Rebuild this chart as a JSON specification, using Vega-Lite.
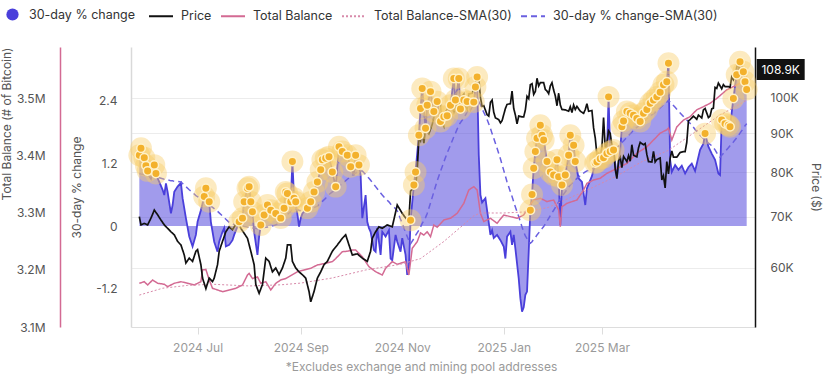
{
  "$schema": "https://vega.github.io/schema/vega-lite/v6.json",
  "width": 624,
  "height": 280,
  "autosize": {"type": "none"},
  "padding": {"left": 131, "top": 47, "right": 81, "bottom": 54},
  "background": "white",
  "config": {
    "view": {"stroke": null},
    "font": "Inter",
    "axis": {"labelFont": "Inter", "titleFont": "Inter", "titleFontWeight": "normal"},
    "legend": {"labelFont": "Inter"}
  },
  "datasets": {
    "pct": [
      {"date":"2024-05-27","pct":1.35,"sma":1.0},{"date":"2024-05-28","pct":1.48,"sma":0.99},{"date":"2024-05-30","pct":1.30,"sma":0.98},{"date":"2024-05-31","pct":1.15,"sma":0.97},{"date":"2024-06-01","pct":1.05,"sma":0.97},{"date":"2024-06-02","pct":0.95,"sma":0.96},{"date":"2024-06-03","pct":0.90,"sma":0.95},{"date":"2024-06-05","pct":1.16,"sma":0.94},{"date":"2024-06-06","pct":1.00,"sma":0.94},{"date":"2024-06-07","pct":0.91,"sma":0.93},{"date":"2024-06-08","pct":0.84,"sma":0.92},{"date":"2024-06-10","pct":0.69,"sma":0.90},{"date":"2024-06-11","pct":0.59,"sma":0.89},{"date":"2024-06-12","pct":0.81,"sma":0.89},{"date":"2024-06-13","pct":0.65,"sma":0.88},{"date":"2024-06-15","pct":0.24,"sma":0.86},{"date":"2024-06-16","pct":0.40,"sma":0.86},{"date":"2024-06-17","pct":0.65,"sma":0.85},{"date":"2024-06-19","pct":0.75,"sma":0.85},{"date":"2024-06-21","pct":0.82,"sma":0.84},{"date":"2024-06-22","pct":0.53,"sma":0.81},{"date":"2024-06-24","pct":0.15,"sma":0.75},{"date":"2024-06-26","pct":-0.20,"sma":0.69},{"date":"2024-06-28","pct":-0.39,"sma":0.64},{"date":"2024-06-30","pct":-0.17,"sma":0.58},
      {"date":"2024-07-01","pct":0.08,"sma":0.56},{"date":"2024-07-03","pct":0.30,"sma":0.51},{"date":"2024-07-05","pct":0.56,"sma":0.47},{"date":"2024-07-06","pct":0.72,"sma":0.44},{"date":"2024-07-08","pct":0.46,"sma":0.40},{"date":"2024-07-09","pct":0.08,"sma":0.38},{"date":"2024-07-11","pct":-0.30,"sma":0.33},{"date":"2024-07-13","pct":-0.49,"sma":0.28},{"date":"2024-07-14","pct":-0.30,"sma":0.25},{"date":"2024-07-16","pct":-0.11,"sma":0.19},{"date":"2024-07-17","pct":-0.04,"sma":0.16},{"date":"2024-07-18","pct":-0.39,"sma":0.13},{"date":"2024-07-20","pct":-0.36,"sma":0.07},{"date":"2024-07-22","pct":-0.27,"sma":0.04},{"date":"2024-07-23","pct":-0.17,"sma":0.03},{"date":"2024-07-25","pct":-0.01,"sma":0.02},{"date":"2024-07-26","pct":0.08,"sma":0.02},{"date":"2024-07-28","pct":0.15,"sma":0.00},{"date":"2024-07-29","pct":0.46,"sma":-0.01},{"date":"2024-07-31","pct":0.72,"sma":-0.02},
      {"date":"2024-08-01","pct":0.75,"sma":-0.03},{"date":"2024-08-02","pct":0.46,"sma":-0.03},{"date":"2024-08-03","pct":0.27,"sma":-0.04},{"date":"2024-08-04","pct":-0.11,"sma":-0.04},{"date":"2024-08-06","pct":-0.55,"sma":-0.05},{"date":"2024-08-07","pct":-0.20,"sma":-0.05},{"date":"2024-08-08","pct":0.02,"sma":-0.04},{"date":"2024-08-10","pct":0.21,"sma":-0.03},{"date":"2024-08-12","pct":0.40,"sma":-0.02},{"date":"2024-08-14","pct":0.30,"sma":-0.01},{"date":"2024-08-17","pct":0.24,"sma":0.02},{"date":"2024-08-20","pct":0.15,"sma":0.10},{"date":"2024-08-22","pct":0.34,"sma":0.16},{"date":"2024-08-23","pct":0.65,"sma":0.19},{"date":"2024-08-24","pct":0.62,"sma":0.22},{"date":"2024-08-26","pct":0.46,"sma":0.28},{"date":"2024-08-27","pct":1.23,"sma":0.32},{"date":"2024-08-28","pct":0.53,"sma":0.34},{"date":"2024-08-29","pct":0.46,"sma":0.33},{"date":"2024-08-31","pct":-0.01,"sma":0.30},
      {"date":"2024-09-01","pct":0.15,"sma":0.29},{"date":"2024-09-02","pct":0.24,"sma":0.28},{"date":"2024-09-05","pct":0.34,"sma":0.30},{"date":"2024-09-07","pct":0.46,"sma":0.32},{"date":"2024-09-09","pct":0.65,"sma":0.35},{"date":"2024-09-11","pct":0.84,"sma":0.38},{"date":"2024-09-13","pct":1.07,"sma":0.44},{"date":"2024-09-14","pct":1.26,"sma":0.47},{"date":"2024-09-16","pct":1.29,"sma":0.53},{"date":"2024-09-18","pct":1.32,"sma":0.60},{"date":"2024-09-20","pct":1.03,"sma":0.65},{"date":"2024-09-22","pct":0.75,"sma":0.70},{"date":"2024-09-24","pct":1.51,"sma":0.76},{"date":"2024-09-26","pct":1.42,"sma":0.81},{"date":"2024-09-29","pct":1.35,"sma":0.89},
      {"date":"2024-10-01","pct":1.13,"sma":0.94},{"date":"2024-10-03","pct":0.97,"sma":0.99},{"date":"2024-10-04","pct":1.35,"sma":1.01},{"date":"2024-10-06","pct":1.16,"sma":1.04},{"date":"2024-10-07","pct":0.97,"sma":1.05},{"date":"2024-10-08","pct":0.15,"sma":1.05},{"date":"2024-10-10","pct":0.59,"sma":0.98},{"date":"2024-10-11","pct":0.08,"sma":0.94},{"date":"2024-10-12","pct":-0.04,"sma":0.91},{"date":"2024-10-13","pct":-0.11,"sma":0.87},{"date":"2024-10-15","pct":-0.46,"sma":0.79},{"date":"2024-10-16","pct":-0.49,"sma":0.75},{"date":"2024-10-17","pct":-0.04,"sma":0.71},{"date":"2024-10-19","pct":-0.55,"sma":0.63},{"date":"2024-10-20","pct":-0.11,"sma":0.59},{"date":"2024-10-22","pct":-0.20,"sma":0.52},{"date":"2024-10-24","pct":-0.08,"sma":0.46},{"date":"2024-10-25","pct":-0.62,"sma":0.42},{"date":"2024-10-26","pct":-0.65,"sma":0.39},{"date":"2024-10-28","pct":-0.17,"sma":0.33},{"date":"2024-10-29","pct":-0.30,"sma":0.29},{"date":"2024-10-31","pct":-0.49,"sma":0.13},
      {"date":"2024-11-01","pct":-0.23,"sma":0.05},{"date":"2024-11-03","pct":-0.55,"sma":-0.12},{"date":"2024-11-04","pct":-0.93,"sma":-0.20},{"date":"2024-11-05","pct":-0.81,"sma":-0.28},{"date":"2024-11-06","pct":0.11,"sma":-0.34},{"date":"2024-11-08","pct":0.78,"sma":-0.24},{"date":"2024-11-09","pct":1.03,"sma":-0.18},{"date":"2024-11-11","pct":1.73,"sma":-0.08},{"date":"2024-11-12","pct":2.24,"sma":-0.02},{"date":"2024-11-13","pct":2.62,"sma":0.05},{"date":"2024-11-15","pct":1.86,"sma":0.16},{"date":"2024-11-16","pct":2.30,"sma":0.24},{"date":"2024-11-18","pct":2.56,"sma":0.44},{"date":"2024-11-20","pct":2.18,"sma":0.65},{"date":"2024-11-22","pct":2.37,"sma":0.86},{"date":"2024-11-24","pct":1.99,"sma":1.04},{"date":"2024-11-26","pct":2.08,"sma":1.22},{"date":"2024-11-28","pct":2.10,"sma":1.39},{"date":"2024-11-30","pct":2.30,"sma":1.54},
      {"date":"2024-12-02","pct":2.81,"sma":1.70},{"date":"2024-12-03","pct":2.40,"sma":1.77},{"date":"2024-12-05","pct":2.81,"sma":1.92},{"date":"2024-12-06","pct":2.23,"sma":1.97},{"date":"2024-12-08","pct":2.40,"sma":2.06},{"date":"2024-12-10","pct":2.37,"sma":2.17},{"date":"2024-12-12","pct":2.21,"sma":2.26},{"date":"2024-12-14","pct":2.36,"sma":2.30},{"date":"2024-12-15","pct":2.65,"sma":2.32},{"date":"2024-12-16","pct":2.84,"sma":2.35},{"date":"2024-12-17","pct":1.35,"sma":2.37},{"date":"2024-12-18","pct":0.59,"sma":2.31},{"date":"2024-12-19","pct":0.45,"sma":2.23},{"date":"2024-12-21","pct":0.53,"sma":2.10},{"date":"2024-12-22","pct":0.30,"sma":2.03},{"date":"2024-12-24","pct":-0.17,"sma":1.86},{"date":"2024-12-25","pct":-0.08,"sma":1.76},{"date":"2024-12-26","pct":-0.23,"sma":1.67},{"date":"2024-12-28","pct":-0.17,"sma":1.48},{"date":"2024-12-30","pct":-0.27,"sma":1.28},
      {"date":"2025-01-01","pct":-0.39,"sma":1.06},{"date":"2025-01-02","pct":-0.62,"sma":0.95},{"date":"2025-01-03","pct":-0.20,"sma":0.84},{"date":"2025-01-05","pct":-0.11,"sma":0.65},{"date":"2025-01-06","pct":-0.36,"sma":0.56},{"date":"2025-01-07","pct":-0.17,"sma":0.46},{"date":"2025-01-08","pct":-0.43,"sma":0.36},{"date":"2025-01-10","pct":-1.00,"sma":0.18},{"date":"2025-01-11","pct":-1.38,"sma":0.08},{"date":"2025-01-12","pct":-1.63,"sma":-0.02},{"date":"2025-01-13","pct":-1.55,"sma":-0.11},{"date":"2025-01-14","pct":-1.31,"sma":-0.19},{"date":"2025-01-15","pct":-1.25,"sma":-0.24},{"date":"2025-01-16","pct":-0.50,"sma":-0.30},{"date":"2025-01-17","pct":0.30,"sma":-0.33},{"date":"2025-01-18","pct":0.60,"sma":-0.30},{"date":"2025-01-19","pct":1.10,"sma":-0.25},{"date":"2025-01-20","pct":1.42,"sma":-0.22},{"date":"2025-01-21","pct":1.67,"sma":-0.17},{"date":"2025-01-23","pct":1.92,"sma":-0.09},{"date":"2025-01-24","pct":1.73,"sma":-0.05},{"date":"2025-01-25","pct":1.64,"sma":-0.01},{"date":"2025-01-27","pct":1.23,"sma":0.09},{"date":"2025-01-29","pct":1.03,"sma":0.20},{"date":"2025-01-31","pct":0.97,"sma":0.30},
      {"date":"2025-02-02","pct":1.26,"sma":0.41},{"date":"2025-02-03","pct":0.94,"sma":0.46},{"date":"2025-02-04","pct":0.02,"sma":0.51},{"date":"2025-02-05","pct":0.78,"sma":0.56},{"date":"2025-02-07","pct":0.97,"sma":0.65},{"date":"2025-02-09","pct":1.35,"sma":0.74},{"date":"2025-02-10","pct":1.73,"sma":0.78},{"date":"2025-02-12","pct":1.54,"sma":0.85},{"date":"2025-02-13","pct":1.23,"sma":0.88},{"date":"2025-02-15","pct":0.91,"sma":0.93},{"date":"2025-02-17","pct":0.84,"sma":0.99},{"date":"2025-02-19","pct":0.40,"sma":1.03},{"date":"2025-02-20","pct":0.72,"sma":1.05},{"date":"2025-02-23","pct":0.95,"sma":1.08},{"date":"2025-02-25","pct":1.20,"sma":1.12},{"date":"2025-02-26","pct":1.22,"sma":1.14},{"date":"2025-02-28","pct":1.28,"sma":1.18},
      {"date":"2025-03-02","pct":1.30,"sma":1.24},{"date":"2025-03-04","pct":1.38,"sma":1.30},{"date":"2025-03-05","pct":2.46,"sma":1.33},{"date":"2025-03-06","pct":1.42,"sma":1.36},{"date":"2025-03-08","pct":1.45,"sma":1.42},{"date":"2025-03-10","pct":0.94,"sma":1.49},{"date":"2025-03-12","pct":1.45,"sma":1.56},{"date":"2025-03-13","pct":1.89,"sma":1.59},{"date":"2025-03-14","pct":2.00,"sma":1.62},{"date":"2025-03-16","pct":2.18,"sma":1.69},{"date":"2025-03-18","pct":2.15,"sma":1.76},{"date":"2025-03-20","pct":2.11,"sma":1.82},{"date":"2025-03-22","pct":2.05,"sma":1.88},{"date":"2025-03-24","pct":1.99,"sma":1.93},{"date":"2025-03-26","pct":2.15,"sma":1.98},{"date":"2025-03-28","pct":2.22,"sma":2.04},{"date":"2025-03-30","pct":2.34,"sma":2.09},
      {"date":"2025-04-01","pct":2.40,"sma":2.14},{"date":"2025-04-03","pct":2.46,"sma":2.20},{"date":"2025-04-05","pct":2.55,"sma":2.25},{"date":"2025-04-07","pct":2.69,"sma":2.31},{"date":"2025-04-09","pct":2.75,"sma":2.36},{"date":"2025-04-10","pct":3.10,"sma":2.40},{"date":"2025-04-11","pct":1.26,"sma":2.36},{"date":"2025-04-12","pct":1.03,"sma":2.33},{"date":"2025-04-14","pct":1.16,"sma":2.26},{"date":"2025-04-16","pct":1.07,"sma":2.19},{"date":"2025-04-18","pct":1.15,"sma":2.12},{"date":"2025-04-20","pct":1.00,"sma":2.05},{"date":"2025-04-22","pct":1.12,"sma":1.99},{"date":"2025-04-24","pct":1.19,"sma":1.92},{"date":"2025-04-26","pct":1.05,"sma":1.84},{"date":"2025-04-29","pct":1.45,"sma":1.73},
      {"date":"2025-05-01","pct":1.57,"sma":1.67},{"date":"2025-05-02","pct":1.76,"sma":1.64},{"date":"2025-05-04","pct":1.51,"sma":1.58},{"date":"2025-05-06","pct":1.38,"sma":1.53},{"date":"2025-05-08","pct":1.26,"sma":1.45},{"date":"2025-05-10","pct":1.00,"sma":1.34},{"date":"2025-05-11","pct":0.97,"sma":1.31},{"date":"2025-05-12","pct":2.02,"sma":1.35},{"date":"2025-05-14","pct":1.95,"sma":1.42},{"date":"2025-05-16","pct":1.92,"sma":1.49},{"date":"2025-05-17","pct":1.89,"sma":1.53},{"date":"2025-05-19","pct":2.43,"sma":1.60},{"date":"2025-05-21","pct":2.88,"sma":1.68},{"date":"2025-05-23","pct":3.13,"sma":1.77},{"date":"2025-05-25","pct":2.94,"sma":1.86},{"date":"2025-05-26","pct":2.75,"sma":1.91},{"date":"2025-05-27","pct":2.60,"sma":1.95}
    ],
    "price": [
      {"date":"2024-05-27","price":70000},{"date":"2024-05-28","price":68300},{"date":"2024-05-30","price":68600},{"date":"2024-06-01","price":68300},{"date":"2024-06-03","price":69700},{"date":"2024-06-05","price":71400},{"date":"2024-06-07","price":70400},{"date":"2024-06-09","price":69300},{"date":"2024-06-11","price":68300},{"date":"2024-06-13","price":67600},{"date":"2024-06-15","price":66900},{"date":"2024-06-17","price":66300},{"date":"2024-06-19","price":65000},{"date":"2024-06-21","price":64300},{"date":"2024-06-23","price":62400},{"date":"2024-06-24","price":60900},{"date":"2024-06-26","price":61800},{"date":"2024-06-28","price":61200},{"date":"2024-06-30","price":63100},
      {"date":"2024-07-01","price":63400},{"date":"2024-07-03","price":60600},{"date":"2024-07-04","price":58200},{"date":"2024-07-06","price":56400},{"date":"2024-07-08","price":58200},{"date":"2024-07-10","price":57600},{"date":"2024-07-11","price":58200},{"date":"2024-07-13","price":60600},{"date":"2024-07-14","price":63100},{"date":"2024-07-16","price":65000},{"date":"2024-07-18","price":66900},{"date":"2024-07-20","price":67900},{"date":"2024-07-22","price":67300},{"date":"2024-07-25","price":69000},{"date":"2024-07-27","price":67600},{"date":"2024-07-29","price":66600},{"date":"2024-07-31","price":65600},
      {"date":"2024-08-02","price":63100},{"date":"2024-08-04","price":60600},{"date":"2024-08-05","price":57100},{"date":"2024-08-07","price":55600},{"date":"2024-08-09","price":57100},{"date":"2024-08-11","price":61800},{"date":"2024-08-13","price":61200},{"date":"2024-08-15","price":59300},{"date":"2024-08-17","price":60000},{"date":"2024-08-19","price":58800},{"date":"2024-08-21","price":60000},{"date":"2024-08-23","price":61800},{"date":"2024-08-24","price":64300},{"date":"2024-08-26","price":64300},{"date":"2024-08-27","price":61200},{"date":"2024-08-29","price":60000},{"date":"2024-08-31","price":59300},
      {"date":"2024-09-02","price":58800},{"date":"2024-09-04","price":58200},{"date":"2024-09-06","price":55900},{"date":"2024-09-07","price":54200},{"date":"2024-09-09","price":55900},{"date":"2024-09-11","price":58200},{"date":"2024-09-13","price":59300},{"date":"2024-09-15","price":60600},{"date":"2024-09-17","price":61200},{"date":"2024-09-20","price":63100},{"date":"2024-09-23","price":64300},{"date":"2024-09-26","price":65600},{"date":"2024-09-28","price":66300},{"date":"2024-09-30","price":64300},
      {"date":"2024-10-02","price":62400},{"date":"2024-10-05","price":62600},{"date":"2024-10-08","price":61800},{"date":"2024-10-11","price":61200},{"date":"2024-10-13","price":63100},{"date":"2024-10-14","price":65600},{"date":"2024-10-16","price":66900},{"date":"2024-10-18","price":67900},{"date":"2024-10-20","price":67600},{"date":"2024-10-23","price":68300},{"date":"2024-10-26","price":67900},{"date":"2024-10-29","price":72500},
      {"date":"2024-11-01","price":70700},{"date":"2024-11-04","price":69300},{"date":"2024-11-05","price":69400},{"date":"2024-11-06","price":75600},{"date":"2024-11-07","price":76000},{"date":"2024-11-09","price":76700},{"date":"2024-11-10","price":80400},{"date":"2024-11-11","price":88700},{"date":"2024-11-12","price":87900},{"date":"2024-11-13","price":90500},{"date":"2024-11-14","price":87300},{"date":"2024-11-15","price":91100},{"date":"2024-11-17","price":89800},{"date":"2024-11-19","price":92300},{"date":"2024-11-20","price":94300},{"date":"2024-11-21","price":98400},{"date":"2024-11-22","price":98900},{"date":"2024-11-24","price":98000},{"date":"2024-11-25","price":93000},{"date":"2024-11-26","price":91900},{"date":"2024-11-27","price":95900},{"date":"2024-11-29","price":97500},
      {"date":"2024-12-01","price":97200},{"date":"2024-12-02","price":95800},{"date":"2024-12-04","price":98800},{"date":"2024-12-05","price":97000},{"date":"2024-12-06","price":99900},{"date":"2024-12-08","price":101200},{"date":"2024-12-09","price":97400},{"date":"2024-12-10","price":96700},{"date":"2024-12-11","price":101200},{"date":"2024-12-13","price":101400},{"date":"2024-12-15","price":104300},{"date":"2024-12-16","price":106000},{"date":"2024-12-17","price":106100},{"date":"2024-12-18","price":100200},{"date":"2024-12-19","price":97500},{"date":"2024-12-20","price":97700},{"date":"2024-12-22","price":95100},{"date":"2024-12-23","price":94700},{"date":"2024-12-24","price":98700},{"date":"2024-12-25","price":99400},{"date":"2024-12-26","price":95800},{"date":"2024-12-27","price":94200},{"date":"2024-12-29","price":93700},{"date":"2024-12-30","price":92800},{"date":"2024-12-31","price":93400},
      {"date":"2025-01-02","price":96900},{"date":"2025-01-03","price":98100},{"date":"2025-01-05","price":98300},{"date":"2025-01-06","price":102100},{"date":"2025-01-07","price":96900},{"date":"2025-01-08","price":95000},{"date":"2025-01-09","price":92500},{"date":"2025-01-10","price":94700},{"date":"2025-01-12","price":94500},{"date":"2025-01-13","price":94500},{"date":"2025-01-14","price":96500},{"date":"2025-01-15","price":100500},{"date":"2025-01-16","price":99800},{"date":"2025-01-17","price":104100},{"date":"2025-01-18","price":104400},{"date":"2025-01-19","price":101100},{"date":"2025-01-20","price":102000},{"date":"2025-01-21","price":106100},{"date":"2025-01-22","price":103700},{"date":"2025-01-23","price":104700},{"date":"2025-01-25","price":104700},{"date":"2025-01-26","price":102600},{"date":"2025-01-27","price":102100},{"date":"2025-01-28","price":101300},{"date":"2025-01-29","price":103700},{"date":"2025-01-30","price":104700},{"date":"2025-01-31","price":102400},
      {"date":"2025-02-01","price":100600},{"date":"2025-02-02","price":97700},{"date":"2025-02-03","price":101400},{"date":"2025-02-04","price":97900},{"date":"2025-02-05","price":96600},{"date":"2025-02-07","price":96500},{"date":"2025-02-09","price":96100},{"date":"2025-02-10","price":97400},{"date":"2025-02-11","price":95700},{"date":"2025-02-12","price":97900},{"date":"2025-02-13","price":96600},{"date":"2025-02-14","price":97500},{"date":"2025-02-16","price":96100},{"date":"2025-02-17","price":95800},{"date":"2025-02-18","price":95500},{"date":"2025-02-19","price":96600},{"date":"2025-02-20","price":98300},{"date":"2025-02-21","price":96100},{"date":"2025-02-23","price":96300},{"date":"2025-02-24","price":91400},{"date":"2025-02-25","price":88700},{"date":"2025-02-26","price":84300},{"date":"2025-02-27","price":84700},{"date":"2025-02-28","price":84400},
      {"date":"2025-03-01","price":86000},{"date":"2025-03-02","price":94300},{"date":"2025-03-03","price":86100},{"date":"2025-03-04","price":87200},{"date":"2025-03-05","price":90600},{"date":"2025-03-06","price":89900},{"date":"2025-03-07","price":86700},{"date":"2025-03-08","price":86200},{"date":"2025-03-09","price":80700},{"date":"2025-03-10","price":78500},{"date":"2025-03-11","price":82900},{"date":"2025-03-12","price":83700},{"date":"2025-03-13","price":81100},{"date":"2025-03-14","price":83900},{"date":"2025-03-16","price":82600},{"date":"2025-03-17","price":84100},{"date":"2025-03-18","price":82700},{"date":"2025-03-19","price":86900},{"date":"2025-03-20","price":84200},{"date":"2025-03-22","price":83800},{"date":"2025-03-23","price":86100},{"date":"2025-03-24","price":87500},{"date":"2025-03-26","price":86900},{"date":"2025-03-27","price":87200},{"date":"2025-03-28","price":84400},{"date":"2025-03-29","price":82600},{"date":"2025-03-31","price":82500},
      {"date":"2025-04-01","price":85200},{"date":"2025-04-02","price":82500},{"date":"2025-04-03","price":83100},{"date":"2025-04-05","price":83500},{"date":"2025-04-06","price":78200},{"date":"2025-04-07","price":79200},{"date":"2025-04-08","price":76300},{"date":"2025-04-09","price":82600},{"date":"2025-04-10","price":79600},{"date":"2025-04-11","price":83400},{"date":"2025-04-12","price":85300},{"date":"2025-04-13","price":83700},{"date":"2025-04-15","price":83700},{"date":"2025-04-17","price":84900},{"date":"2025-04-19","price":85100},{"date":"2025-04-20","price":85100},{"date":"2025-04-21","price":87500},{"date":"2025-04-22","price":93400},{"date":"2025-04-23","price":93700},{"date":"2025-04-25","price":94700},{"date":"2025-04-27","price":93800},{"date":"2025-04-28","price":95000},{"date":"2025-04-30","price":94200},
      {"date":"2025-05-01","price":96500},{"date":"2025-05-02","price":96900},{"date":"2025-05-04","price":94300},{"date":"2025-05-05","price":94700},{"date":"2025-05-06","price":96800},{"date":"2025-05-07","price":97000},{"date":"2025-05-08","price":103200},{"date":"2025-05-09","price":102900},{"date":"2025-05-10","price":104600},{"date":"2025-05-12","price":102800},{"date":"2025-05-13","price":104100},{"date":"2025-05-14","price":103500},{"date":"2025-05-16","price":103500},{"date":"2025-05-17","price":103200},{"date":"2025-05-18","price":106500},{"date":"2025-05-19","price":105600},{"date":"2025-05-20","price":106800},{"date":"2025-05-21","price":109600},{"date":"2025-05-22","price":111700},{"date":"2025-05-23","price":107300},{"date":"2025-05-24","price":107800},{"date":"2025-05-25","price":109000},{"date":"2025-05-26","price":109400},{"date":"2025-05-27","price":108900}
    ],
    "bal": [
      {"date":"2024-05-27","bal":3176700},{"date":"2024-05-30","bal":3179500},{"date":"2024-06-01","bal":3173700},{"date":"2024-06-04","bal":3182500},{"date":"2024-06-07","bal":3176700},{"date":"2024-06-11","bal":3175000},{"date":"2024-06-13","bal":3170800},{"date":"2024-06-17","bal":3176700},{"date":"2024-06-21","bal":3179500},{"date":"2024-06-25","bal":3176700},{"date":"2024-06-29","bal":3173700},{"date":"2024-07-03","bal":3179500},{"date":"2024-07-04","bal":3200000},{"date":"2024-07-06","bal":3201000},{"date":"2024-07-08","bal":3182500},{"date":"2024-07-10","bal":3167900},{"date":"2024-07-13","bal":3165000},{"date":"2024-07-16","bal":3162000},{"date":"2024-07-20","bal":3165000},{"date":"2024-07-24","bal":3167900},{"date":"2024-07-28","bal":3173700},{"date":"2024-07-31","bal":3191200},{"date":"2024-08-01","bal":3194000},{"date":"2024-08-03","bal":3185000},{"date":"2024-08-06","bal":3188000},{"date":"2024-08-08","bal":3176700},{"date":"2024-08-11","bal":3179500},{"date":"2024-08-14","bal":3165000},{"date":"2024-08-17","bal":3176700},{"date":"2024-08-20","bal":3182500},{"date":"2024-08-23","bal":3185000},{"date":"2024-08-26","bal":3190000},{"date":"2024-08-30","bal":3197000},{"date":"2024-09-03","bal":3200000},{"date":"2024-09-07","bal":3203000},{"date":"2024-09-11","bal":3208800},{"date":"2024-09-16","bal":3211800},{"date":"2024-09-20","bal":3214600},{"date":"2024-09-22","bal":3220000},{"date":"2024-09-26","bal":3232000},{"date":"2024-09-29","bal":3233000},{"date":"2024-10-02","bal":3235000},{"date":"2024-10-04","bal":3235000},{"date":"2024-10-08","bal":3223300},{"date":"2024-10-12","bal":3205800},{"date":"2024-10-16","bal":3197000},{"date":"2024-10-20","bal":3191200},{"date":"2024-10-22","bal":3203000},{"date":"2024-10-26","bal":3214600},{"date":"2024-10-29","bal":3210000},{"date":"2024-11-03","bal":3214600},{"date":"2024-11-05","bal":3191200},{"date":"2024-11-07","bal":3238000},{"date":"2024-11-10","bal":3249700},{"date":"2024-11-12","bal":3265000},{"date":"2024-11-14","bal":3261400},{"date":"2024-11-16","bal":3267000},{"date":"2024-11-18","bal":3258500},{"date":"2024-11-20","bal":3278900},{"date":"2024-11-22","bal":3275000},{"date":"2024-11-26","bal":3287700},{"date":"2024-11-30","bal":3290700},{"date":"2024-12-04","bal":3299400},{"date":"2024-12-08","bal":3317000},{"date":"2024-12-11","bal":3340400},{"date":"2024-12-14","bal":3346200},{"date":"2024-12-16","bal":3340400},{"date":"2024-12-18","bal":3299400},{"date":"2024-12-20","bal":3285000},{"date":"2024-12-24","bal":3290700},{"date":"2024-12-28","bal":3282000},{"date":"2025-01-01","bal":3296500},{"date":"2025-01-05","bal":3293600},{"date":"2025-01-09","bal":3290700},{"date":"2025-01-13","bal":3296500},{"date":"2025-01-16","bal":3311000},{"date":"2025-01-19","bal":3322800},{"date":"2025-01-23","bal":3325800},{"date":"2025-01-27","bal":3320000},{"date":"2025-01-31","bal":3322800},{"date":"2025-02-03","bal":3305300},{"date":"2025-02-04","bal":3276000},{"date":"2025-02-05","bal":3311000},{"date":"2025-02-08","bal":3317000},{"date":"2025-02-14","bal":3322800},{"date":"2025-02-18","bal":3340400},{"date":"2025-02-20","bal":3352000},{"date":"2025-02-24","bal":3357900},{"date":"2025-02-28","bal":3361000},{"date":"2025-03-04","bal":3369600},{"date":"2025-03-10","bal":3378000},{"date":"2025-03-16","bal":3387000},{"date":"2025-03-22","bal":3405000},{"date":"2025-03-28","bal":3416000},{"date":"2025-04-01","bal":3428000},{"date":"2025-04-05","bal":3440000},{"date":"2025-04-09","bal":3446000},{"date":"2025-04-10","bal":3449000},{"date":"2025-04-12","bal":3428000},{"date":"2025-04-15","bal":3451000},{"date":"2025-04-19","bal":3463000},{"date":"2025-04-23","bal":3469000},{"date":"2025-04-27","bal":3481000},{"date":"2025-05-01","bal":3486500},{"date":"2025-05-05","bal":3492400},{"date":"2025-05-09","bal":3501000},{"date":"2025-05-15","bal":3516000},{"date":"2025-05-19","bal":3521600},{"date":"2025-05-23","bal":3527500},{"date":"2025-05-27","bal":3539000}
    ],
    "balsma": [
      {"date":"2024-05-27","bal":3156000},{"date":"2024-06-10","bal":3168000},{"date":"2024-06-25","bal":3173000},{"date":"2024-07-10","bal":3175000},{"date":"2024-08-01","bal":3172000},{"date":"2024-08-20","bal":3174000},{"date":"2024-09-01","bal":3177000},{"date":"2024-09-20","bal":3186000},{"date":"2024-10-10","bal":3200000},{"date":"2024-10-31","bal":3210000},{"date":"2024-11-12","bal":3220000},{"date":"2024-11-26","bal":3250000},{"date":"2024-12-14","bal":3295000},{"date":"2024-12-18","bal":3300000},{"date":"2025-01-01","bal":3300000},{"date":"2025-01-15","bal":3302000},{"date":"2025-01-28","bal":3310000},{"date":"2025-02-20","bal":3340000},{"date":"2025-03-10","bal":3365000},{"date":"2025-03-25","bal":3390000},{"date":"2025-04-10","bal":3410000},{"date":"2025-04-25","bal":3440000},{"date":"2025-05-10","bal":3470000},{"date":"2025-05-27","bal":3498000}
    ]
  },
  "encoding": {
    "x": {
      "field": "date", "type": "temporal",
      "scale": {"type": "utc", "domain": [{"year": 2024, "month": 5, "date": 22, "utc": true}, {"year": 2025, "month": 6, "date": 1, "utc": true}]},
      "axis": {
        "values": [
          {"year": 2024, "month": 7, "date": 1, "utc": true},
          {"year": 2024, "month": 9, "date": 1, "utc": true},
          {"year": 2024, "month": 11, "date": 1, "utc": true},
          {"year": 2025, "month": 1, "date": 1, "utc": true},
          {"year": 2025, "month": 3, "date": 1, "utc": true}
        ],
        "labelExpr": "utcFormat(datum.value, '%Y %b')",
        "grid": false,
        "domainColor": "#dddddd",
        "tickColor": "#dddddd",
        "tickSize": 7,
        "labelColor": "#9a9a9a",
        "labelFontSize": 12,
        "labelPadding": 8,
        "title": "*Excludes exchange and mining pool addresses",
        "titleColor": "#9a9a9a",
        "titleFontSize": 12,
        "titleX": 290,
        "titleY": 34,
        "titleBaseline": "top",
        "titleAlign": "center"
      }
    }
  },
  "layer": [
    {
      "data": {"name": "pct"},
      "layer": [
        {
          "mark": {"type": "area", "opacity": 0.52, "line": false},
          "encoding": {
            "y": {
              "field": "pct", "type": "quantitative", "title": "30-day % change",
              "scale": {"domain": [-1.924, 3.41], "nice": false, "zero": false},
              "axis": {
                "orient": "left", "offset": 0,
                "values": [-1.2, 0, 1.2, 2.4],
                "labelExpr": "'' + datum.value",
                "grid": false, "ticks": false,
                "domainColor": "#d9d9d9", "domainWidth": 1.5,
                "labelColor": "#555555", "labelFontSize": 12, "labelPadding": 14,
                "titleColor": "#555555", "titleFontSize": 12, "titlePadding": 12
              }
            },
            "fill": {
              "datum": "30-day % change", "type": "nominal",
              "scale": {"domain": ["30-day % change"], "range": ["#4a3fdb"]},
              "legend": {
                "orient": "none", "legendX": -125, "legendY": -39,
                "title": null, "labelFontSize": 12.5, "labelColor": "#333333",
                "symbolType": "circle", "symbolSize": 150, "symbolOpacity": 1,
                "symbolStrokeWidth": 0, "labelOffset": 10
              }
            }
          }
        },
        {
          "mark": {"type": "line", "strokeWidth": 1.8, "color": "#4a3fdb"},
          "encoding": {
            "y": {"field": "pct", "type": "quantitative", "title": "30-day % change"}
          }
        },
        {
          "mark": {"type": "line", "strokeWidth": 1.5},
          "encoding": {
            "y": {"field": "sma", "type": "quantitative", "title": "30-day % change"},
            "stroke": {
              "datum": "30-day % change-SMA(30)", "type": "nominal",
              "scale": {
                "domain": ["Price", "Total Balance", "Total Balance-SMA(30)", "30-day % change-SMA(30)"],
                "range": ["#111111", "#d36a93", "#d88aaa", "#6a60e0"]
              },
              "legend": {
                "orient": "none", "legendX": 17, "legendY": -44,
                "direction": "horizontal", "title": null,
                "labelFontSize": 12.5, "labelColor": "#333333", "labelLimit": 400,
                "symbolType": "stroke", "symbolStrokeWidth": 2,
                "symbolSize": 576, "labelOffset": 7, "columnPadding": 5
              }
            },
            "strokeDash": {
              "datum": "30-day % change-SMA(30)", "type": "nominal",
              "scale": {
                "domain": ["Price", "Total Balance", "Total Balance-SMA(30)", "30-day % change-SMA(30)"],
                "range": [[1, 0], [1, 0], [2, 2], [6, 4]]
              },
              "legend": {
                "orient": "none", "legendX": 17, "legendY": -44,
                "direction": "horizontal", "title": null,
                "labelFontSize": 12.5, "labelColor": "#333333", "labelLimit": 400,
                "symbolType": "stroke", "symbolStrokeWidth": 2,
                "symbolSize": 576, "labelOffset": 7, "columnPadding": 5
              }
            }
          }
        }
      ]
    },
    {
      "layer": [
        {
          "data": {"name": "bal"},
          "mark": {"type": "line", "strokeWidth": 1.5},
          "encoding": {
            "y": {
              "field": "bal", "type": "quantitative", "title": "Total Balance (# of Bitcoin)",
              "scale": {"domain": [3100000, 3591200], "nice": false, "zero": false},
              "axis": {
                "orient": "left", "offset": 71,
                "values": [3100000, 3200000, 3300000, 3400000, 3500000],
                "labelExpr": "format(datum.value / 1000000, '.1f') + 'M'",
                "grid": false, "ticks": false,
                "domainColor": "#d36a93", "domainWidth": 1.5,
                "labelColor": "#555555", "labelFontSize": 12, "labelPadding": 15,
                "titleColor": "#555555", "titleFontSize": 12, "titlePadding": 2,
                "titleAnchor": "end"
              }
            },
            "stroke": {"datum": "Total Balance", "type": "nominal"},
            "strokeDash": {"datum": "Total Balance", "type": "nominal"}
          }
        },
        {
          "data": {"name": "balsma"},
          "mark": {"type": "line", "strokeWidth": 1},
          "encoding": {
            "y": {"field": "bal", "type": "quantitative", "title": "Total Balance (# of Bitcoin)"},
            "stroke": {"datum": "Total Balance-SMA(30)", "type": "nominal"},
            "strokeDash": {"datum": "Total Balance-SMA(30)", "type": "nominal"}
          }
        }
      ]
    },
    {
      "data": {"name": "price"},
      "layer": [
        {
          "mark": {"type": "line", "strokeWidth": 1.7},
          "encoding": {
            "y": {
              "field": "price", "type": "quantitative", "title": "Price ($)",
              "scale": {"type": "log", "domain": [50250, 116560], "nice": false},
              "axis": {
                "orient": "right",
                "values": [60000, 70000, 80000, 90000, 100000],
                "labelExpr": "(datum.value / 1000) + 'K'",
                "grid": true, "gridColor": "#ececec", "ticks": false,
                "domainColor": "#111111", "domainWidth": 1.5,
                "labelColor": "#555555", "labelFontSize": 12, "labelPadding": 15,
                "titleColor": "#555555", "titleFontSize": 12, "titlePadding": 10
              }
            },
            "stroke": {"datum": "Price", "type": "nominal"},
            "strokeDash": {"datum": "Price", "type": "nominal"}
          }
        },
        {
          "transform": [{"filter": "datum.price === 108900"}],
          "mark": {"type": "point", "shape": "M-1,-0.4375L1,-0.4375L1,0.4375L-1,0.4375Z", "size": 2304, "filled": true, "fill": "#111111", "opacity": 1, "strokeWidth": 0, "xOffset": 34},
          "encoding": {
            "y": {"field": "price", "type": "quantitative", "title": "Price ($)"}
          }
        },
        {
          "transform": [{"filter": "datum.price === 108900"}],
          "mark": {"type": "text", "color": "#ffffff", "fontSize": 12, "xOffset": 34, "align": "center", "baseline": "middle"},
          "encoding": {
            "y": {"field": "price", "type": "quantitative", "title": "Price ($)"},
            "text": {"value": "108.9K"}
          }
        }
      ]
    },
    {
      "data": {"name": "pct"},
      "transform": [{"filter": "datum.pct > datum.sma"}],
      "layer": [
        {
          "mark": {"type": "circle", "size": 480, "color": "#f7cc69", "opacity": 0.42},
          "encoding": {
            "y": {"field": "pct", "type": "quantitative", "scale": {"domain": [-1.924, 3.41], "nice": false, "zero": false}, "axis": null}
          }
        },
        {
          "mark": {"type": "circle", "size": 72, "color": "#f3b12c", "opacity": 1, "stroke": "#fff1c8", "strokeWidth": 1.5},
          "encoding": {
            "y": {"field": "pct", "type": "quantitative", "axis": null}
          }
        }
      ]
    }
  ],
  "resolve": {"scale": {"y": "independent"}}
}
